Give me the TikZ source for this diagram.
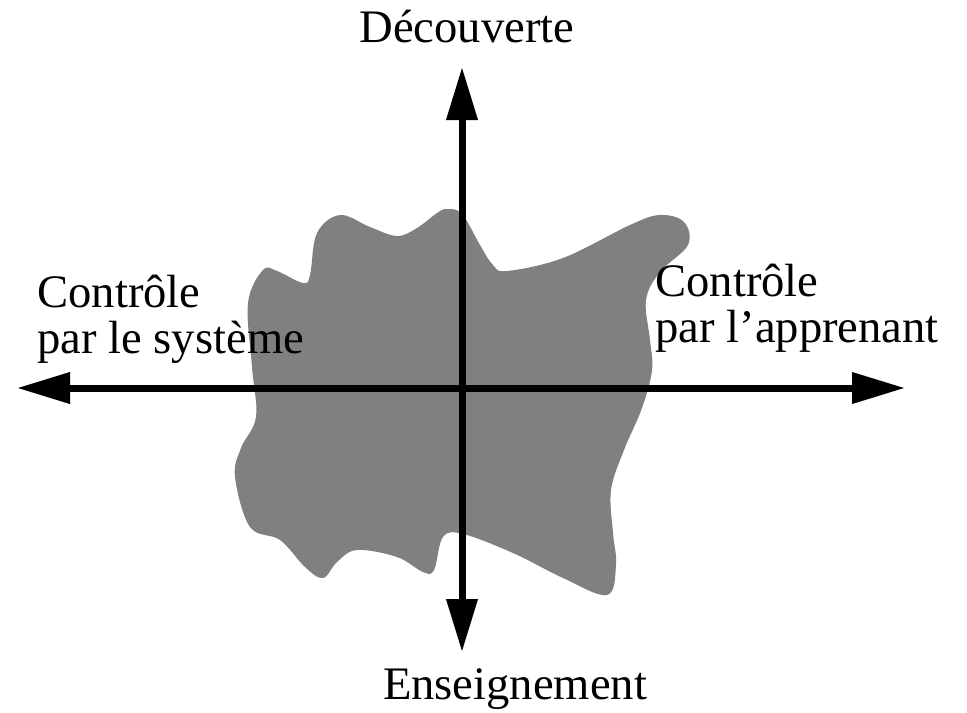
\documentclass[tikz,border=0pt]{standalone}
\usepackage{fontspec}
\setmainfont{Liberation Serif}
\usetikzlibrary{arrows.meta,positioning}
\definecolor{blobgray}{HTML}{808080}
\tikzset{
    axis/.style={line width=3.5pt, {Triangle[length=26.5pt,width=15pt]}-{Triangle[length=26.5pt,width=15pt]}},
    label/.style={inner sep=0pt, align=left, font=\fontsize{23.3}{23}\selectfont},
}
\begin{document}
\begin{tikzpicture}[x=0.5pt, y=-0.5pt]
    \useasboundingbox (0,0) rectangle (967,712);
    \fill[blobgray] plot[smooth cycle, tension=0.6] coordinates {
        (447,209) (462,214) (480,245) (493,265) (507,271) (563,258) (630,225) (660,215)
        (684,222) (688,245) (660,272) (646,300) (650,340) (652,370) (642,408) (624,450)
        (611,490) (613,533) (616,565) (607,595) (563,578) (513,553) (463,534) (443,537)
        (434,570) (423,572) (397,557) (357,550) (337,562) (323,578) (305,567) (280,540)
        (250,527) (235,477) (241,448) (256,417) (252,367) (248,303) (263,270) (277,271)
        (303,283) (310,275) (317,233) (340,215) (370,227) (397,236) (417,228) (437,213)
    };
    \coordinate (west) at (17,388);
    \coordinate (east) at (905,388);
    \coordinate (north) at (462,67);
    \coordinate (south) at (462,652);
    \draw[axis] (west) -- (east);
    \draw[axis] (south) -- (north);
    \node[label, anchor=base] (decouverte) at (467,42) {Découverte};
    \node[label, anchor=base] (enseignement) at (515,699) {Enseignement};
    \node[label, anchor=base west] (systeme) at (37,353) {Contrôle\\par le système};
    \node[label, anchor=base west] (apprenant) at (655,342) {Contrôle\\par l’apprenant};
\end{tikzpicture}
\end{document}
